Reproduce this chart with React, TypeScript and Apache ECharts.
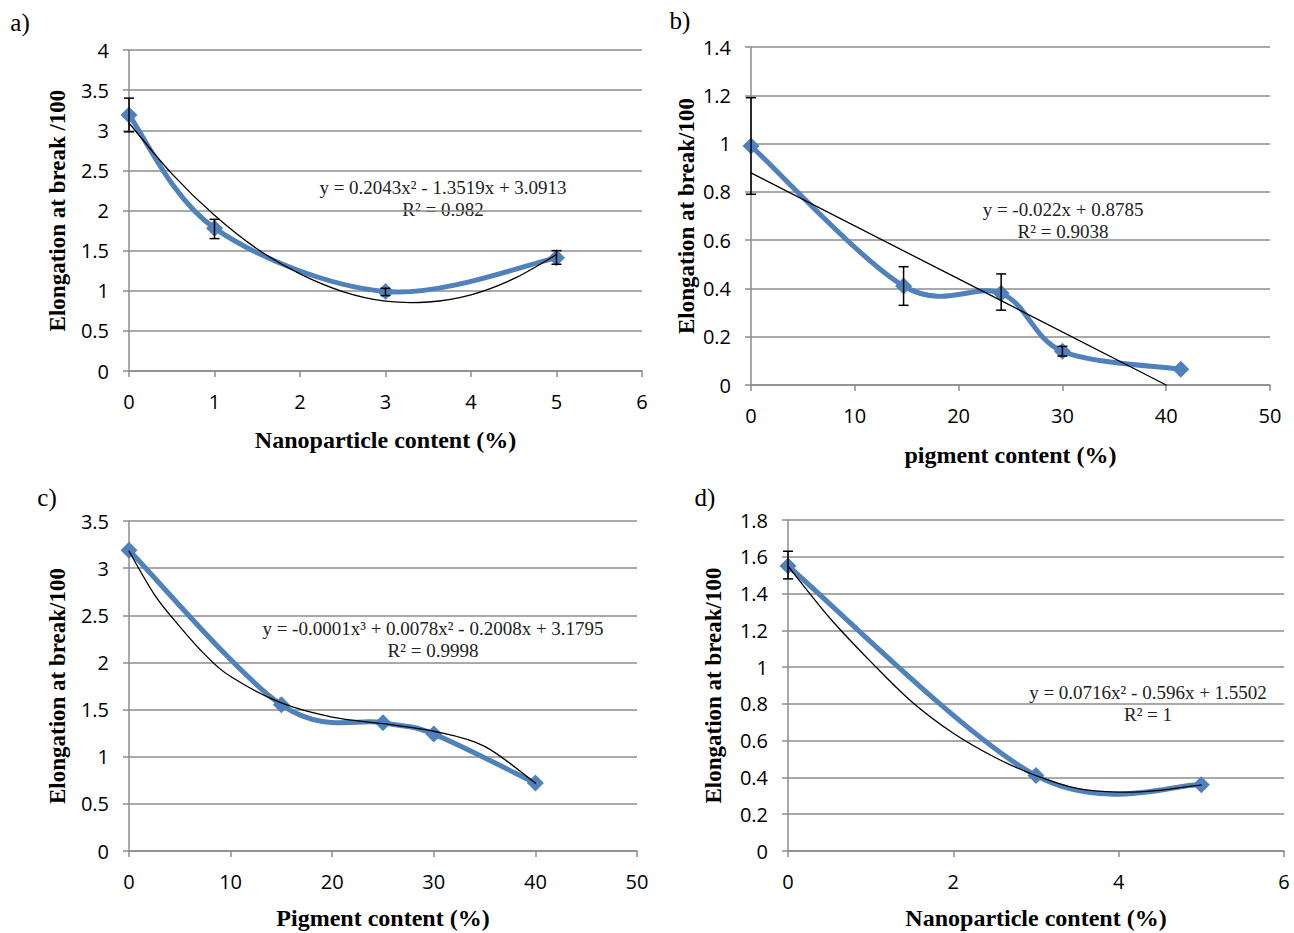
import React, { useEffect, useRef } from "react";
import * as echarts from "echarts";

// ---- Panel a ----
const aX = [0, 1, 3, 5];
const aY = [3.19, 1.78, 0.99, 1.41];
const aErr = [[0, 2.98, 3.4], [1, 1.65, 1.89], [3, 0.94, 1.03], [5, 1.33, 1.5]];
const aTrendX = [0, 0.5, 1, 1.5, 2, 2.5, 3, 3.5, 4, 4.5, 5];
const aTrendY = [3.09, 2.46, 1.94, 1.52, 1.21, 0.99, 0.87, 0.86, 0.95, 1.15, 1.45];
const aEq = ["y = 0.2043x² - 1.3519x + 3.0913", "R² = 0.982"];

// ---- Panel b ----
const bX = [0, 14.7, 24.1, 30, 41.4];
const bY = [0.99, 0.41, 0.38, 0.14, 0.065];
const bErr = [[0, 0.79, 1.19], [14.7, 0.33, 0.49], [24.1, 0.31, 0.46], [30, 0.12, 0.16]];
const bTrendX = [0, 40];
const bTrendY = [0.8785, 0];
const bEq = ["y = -0.022x + 0.8785", "R² = 0.9038"];

// ---- Panel c ----
const cX = [0, 15, 25, 30, 40];
const cY = [3.19, 1.55, 1.36, 1.24, 0.72];
const cErr: number[][] = [];
const cTrendX = [0, 2.5, 5, 7.5, 10, 15, 20, 25, 30, 35, 40];
const cTrendY = [3.18, 2.72, 2.38, 2.08, 1.85, 1.57, 1.42, 1.35, 1.27, 1.11, 0.72];
const cEq = ["y = -0.0001x³ + 0.0078x² - 0.2008x + 3.1795", "R² = 0.9998"];

// ---- Panel d ----
const dX = [0, 3, 5];
const dY = [1.55, 0.41, 0.36];
const dErr = [[0, 1.48, 1.63]];
const dTrendX = [0, 0.5, 1, 1.5, 2, 2.5, 3, 3.5, 4, 4.5, 5];
const dTrendY = [1.55, 1.27, 1.03, 0.81, 0.64, 0.51, 0.41, 0.34, 0.32, 0.33, 0.36];
const dEq = ["y = 0.0716x² - 0.596x + 1.5502", "R² = 1"];

const xTitles = ["Nanoparticle content (%)", "pigment content (%)", "Pigment content (%)", "Nanoparticle content (%)"];
const yTitles = ["Elongation at break /100", "Elongation at break/100", "Elongation at break/100", "Elongation at break/100"];
const panelLabels = ["a)", "b)", "c)", "d)"];

const BLUE = "#4F81BD";
const GRIDC = "#8c8c8c";
const SERIF = "'Liberation Serif', 'Times New Roman', serif";
const SANS = "'Open Sans', Carlito, Calibri, sans-serif";

// Excel-like smoothed line (Catmull-Rom style bezier) in pixel space
function smoothPath(pts: number[][]): string {
  const n = pts.length;
  let d = `M${pts[0][0]},${pts[0][1]}`;
  for (let i = 0; i < n - 1; i++) {
    const p0 = pts[Math.max(i - 1, 0)];
    const p1 = pts[i];
    const p2 = pts[i + 1];
    const p3 = pts[Math.min(i + 2, n - 1)];
    const c1x = p1[0] + (p2[0] - p0[0]) / 6;
    const c1y = p1[1] + (p2[1] - p0[1]) / 6;
    const c2x = p2[0] - (p3[0] - p1[0]) / 6;
    const c2y = p2[1] - (p3[1] - p1[1]) / 6;
    d += ` C${c1x},${c1y} ${c2x},${c2y} ${p2[0]},${p2[1]}`;
  }
  return d;
}

function curveSeries(i: number, xs: number[], ys: number[], color: string, width: number, z: number) {
  return {
    type: "custom", xAxisIndex: i, yAxisIndex: i, z,
    encode: { x: 0, y: 1 },
    data: xs.map((v, k) => [v, ys[k]]),
    renderItem: (params: any, api: any) => {
      if (params.dataIndex !== 0) return null;
      const pts = xs.map((v, k) => api.coord([v, ys[k]]));
      return {
        type: "path",
        shape: { pathData: smoothPath(pts) },
        style: { stroke: color, lineWidth: width, fill: "none", lineJoin: "round", lineCap: "round" },
      };
    },
  };
}

export default function App() {
  const ref = useRef<HTMLDivElement>(null);
  useEffect(() => {
    if (!ref.current) return;
    const chart = echarts.init(ref.current, null, { renderer: "svg" });

    const panels = [
      { x: aX, y: aY, err: aErr, tx: aTrendX, ty: aTrendY, eq: aEq, grid: { left: 129, top: 50, width: 513, height: 321 }, xr: [0, 6, 1], yr: [0, 4, 0.5], xGap: 57, yGap: 60, eqPos: [443, 187] },
      { x: bX, y: bY, err: bErr, tx: bTrendX, ty: bTrendY, eq: bEq, grid: { left: 751, top: 47, width: 519, height: 338 }, xr: [0, 50, 10], yr: [0, 1.4, 0.2], xGap: 58, yGap: 53, eqPos: [1063, 209] },
      { x: cX, y: cY, err: cErr, tx: cTrendX, ty: cTrendY, eq: cEq, grid: { left: 129, top: 521, width: 508, height: 330 }, xr: [0, 50, 10], yr: [0, 3.5, 0.5], xGap: 55, yGap: 60, eqPos: [433, 628] },
      { x: dX, y: dY, err: dErr, tx: dTrendX, ty: dTrendY, eq: dEq, grid: { left: 788, top: 520, width: 496, height: 331 }, xr: [0, 6, 2], yr: [0, 1.8, 0.2], xGap: 55, yGap: 63, eqPos: [1148, 692] },
    ];

    const grids: any[] = [];
    const xAxes: any[] = [];
    const yAxes: any[] = [];
    const series: any[] = [];
    const graphics: any[] = [];

    panels.forEach((p, i) => {
      grids.push({ ...p.grid, containLabel: false });
      xAxes.push({
        type: "value", gridIndex: i, min: p.xr[0], max: p.xr[1], interval: p.xr[2],
        name: xTitles[i], nameLocation: "middle", nameGap: p.xGap,
        nameTextStyle: { fontFamily: SERIF, fontWeight: "bold", fontSize: 24, color: "#000" },
        axisLine: { show: true, lineStyle: { color: GRIDC, width: 1.5 } },
        axisTick: { show: true, length: 6, lineStyle: { color: GRIDC, width: 1.5 } },
        axisLabel: { fontFamily: SANS, fontSize: 20, color: "#000", margin: 20 },
        splitLine: { show: false },
      });
      yAxes.push({
        type: "value", gridIndex: i, min: p.yr[0], max: p.yr[1], interval: p.yr[2],
        name: yTitles[i], nameLocation: "middle", nameGap: p.yGap, nameRotate: 90,
        nameTextStyle: { fontFamily: SERIF, fontWeight: "bold", fontSize: 23, color: "#000" },
        axisLine: { show: true, lineStyle: { color: GRIDC, width: 1.5 } },
        axisTick: { show: true, length: 6, lineStyle: { color: GRIDC, width: 1.5 } },
        axisLabel: { fontFamily: SANS, fontSize: 20, color: "#000", margin: 20 },
        splitLine: { show: true, lineStyle: { color: GRIDC, width: 1.5 } },
      });
      // blue smoothed line
      series.push(curveSeries(i, p.x, p.y, BLUE, 5, 2));
      // markers
      series.push({
        type: "scatter", xAxisIndex: i, yAxisIndex: i, z: 3,
        data: p.x.map((v, k) => [v, p.y[k]]),
        symbol: "diamond", symbolSize: 17,
        itemStyle: { color: BLUE, opacity: 1 },
      });
      // trendline
      series.push(curveSeries(i, p.tx, p.ty, "#000", 1.3, 4));
      if (p.err.length) {
        series.push({
          type: "custom", xAxisIndex: i, yAxisIndex: i, z: 5,
          encode: { x: 0, y: [1, 2] },
          data: p.err,
          renderItem: (params: any, api: any) => {
            const x = api.value(0), lo = api.value(1), hi = api.value(2);
            const a = api.coord([x, lo]);
            const b = api.coord([x, hi]);
            const w = 5;
            const st = { stroke: "#000", lineWidth: 1.5 };
            return {
              type: "group",
              children: [
                { type: "line", shape: { x1: a[0], y1: a[1], x2: b[0], y2: b[1] }, style: st },
                { type: "line", shape: { x1: a[0] - w, y1: a[1], x2: a[0] + w, y2: a[1] }, style: st },
                { type: "line", shape: { x1: b[0] - w, y1: b[1], x2: b[0] + w, y2: b[1] }, style: st },
              ],
            };
          },
        });
      }
      graphics.push({
        type: "text", x: p.eqPos[0], y: p.eqPos[1],
        style: { text: p.eq[0], fontFamily: SERIF, fontSize: 19, fill: "#222", align: "center", verticalAlign: "middle" },
      });
      graphics.push({
        type: "text", x: p.eqPos[0], y: p.eqPos[1] + 22,
        style: { text: p.eq[1], fontFamily: SERIF, fontSize: 19, fill: "#222", align: "center", verticalAlign: "middle" },
      });
    });

    const labelPos = [[20, 22], [680, 20], [47, 497], [705, 497]];
    panelLabels.forEach((t, i) => {
      graphics.push({
        type: "text", x: labelPos[i][0], y: labelPos[i][1],
        style: { text: t, fontFamily: SERIF, fontSize: 25, fill: "#000", align: "center", verticalAlign: "middle" },
      });
    });

    chart.setOption({
      animation: false,
      backgroundColor: "#fff",
      grid: grids,
      xAxis: xAxes,
      yAxis: yAxes,
      series,
      graphic: graphics,
    });
    return () => chart.dispose();
  }, []);
  return <div ref={ref} style={{ position: "absolute", left: 0, top: 0, width: 1294, height: 933 }} />;
}
